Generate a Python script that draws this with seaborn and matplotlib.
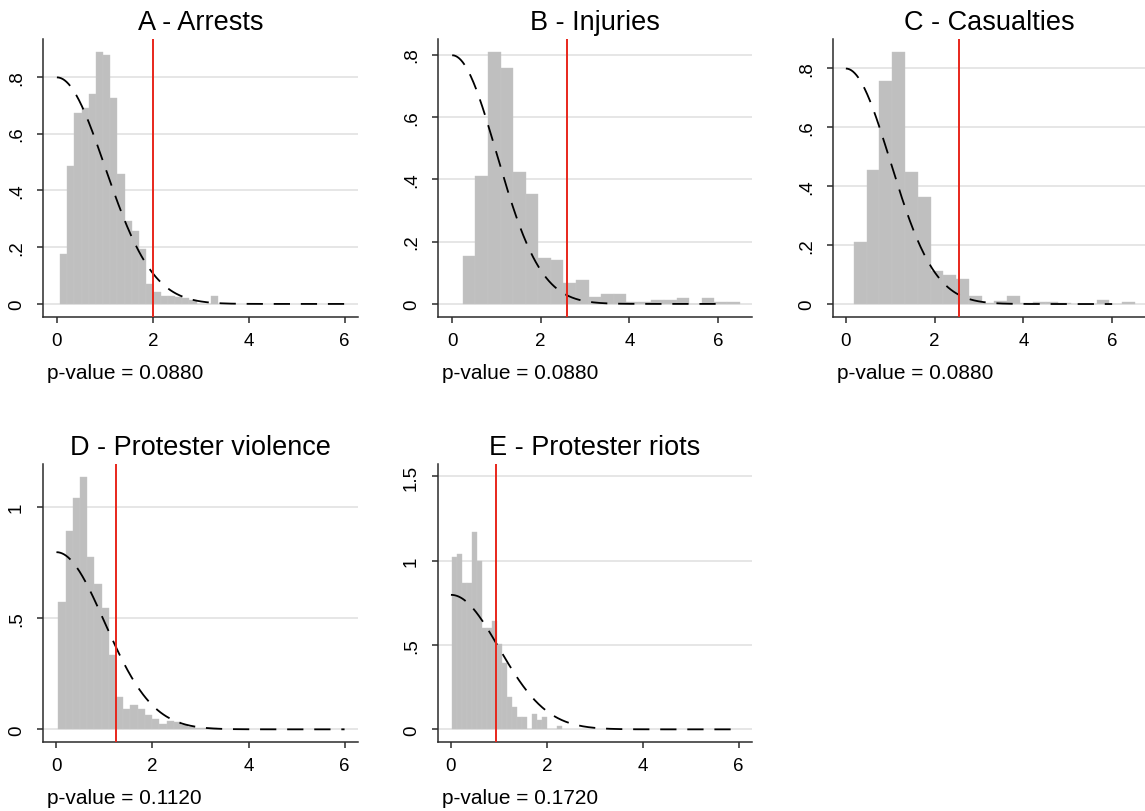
import numpy as np
import pandas as pd
import matplotlib
matplotlib.use("Agg")
import matplotlib.pyplot as plt
import seaborn as sns

# ---------------- data ----------------
titles = ["A - Arrests", "B - Injuries", "C - Casualties",
          "D - Protester violence", "E - Protester riots"]
pvalue_labels = ["p-value = 0.0880", "p-value = 0.0880", "p-value = 0.0880",
                 "p-value = 0.1120", "p-value = 0.1720"]
observed = [2.0, 2.59, 2.54, 1.23, 0.95]          # red vertical line
bin_start = [0.063, 0.24, 0.18, 0.042, 0.012]
bin_width = [0.15, 0.284, 0.288, 0.15, 0.1045]

dens_A = [0.175, 0.484, 0.673, 0.690, 0.739, 0.888, 0.876, 0.725, 0.457, 0.291,
          0.256, 0.192, 0.069, 0.041, 0.029, 0.027, 0.025, 0.020, 0.015, 0.0,
          0.0, 0.028]
dens_B = [0.155, 0.410, 0.808, 0.758, 0.424, 0.353, 0.147, 0.141, 0.068, 0.077,
          0.021, 0.033, 0.033, 0.006, 0.006, 0.011, 0.011, 0.019, 0.0, 0.019,
          0.006, 0.006]
dens_C = [0.210, 0.455, 0.757, 0.854, 0.448, 0.364, 0.112, 0.097, 0.085, 0.028,
          0.004, 0.011, 0.026, 0.004, 0.006, 0.006, 0.003, 0.0, 0.0, 0.013,
          0.0, 0.006]
dens_D = [0.573, 0.895, 1.042, 1.136, 0.775, 0.655, 0.547, 0.333, 0.147, 0.093,
          0.108, 0.090, 0.063, 0.048, 0.025, 0.037, 0.035, 0.020, 0.012, 0.007,
          0.005, 0.004]
dens_E = [1.020, 1.040, 0.867, 0.867, 1.172, 1.000, 0.604, 0.604, 0.644, 0.505,
          0.396, 0.194, 0.135, 0.073, 0.073, 0.0, 0.093, 0.055, 0.073, 0.0,
          0.0, 0.020]
densities = [dens_A, dens_B, dens_C, dens_D, dens_E]

xticks = [0, 2, 4, 6]
xtick_labels = ["0", "2", "4", "6"]
yticks_top = [0, 0.2, 0.4, 0.6, 0.8]
ytick_labels_top = ["0", ".2", ".4", ".6", ".8"]
yticks_D = [0, 0.5, 1]
ytick_labels_D = ["0", ".5", "1"]
yticks_E = [0, 0.5, 1, 1.5]
ytick_labels_E = ["0", ".5", "1", "1.5"]
yticks_list = [yticks_top, yticks_top, yticks_top, yticks_D, yticks_E]
ylabels_list = [ytick_labels_top] * 3 + [ytick_labels_D, ytick_labels_E]

# reference half-normal density (dashed)
ref_x = np.linspace(0, 6, 300)
ref_y = 2.0 / np.sqrt(2 * np.pi) * np.exp(-ref_x ** 2 / 2)

# ---------------- style ----------------
sns.set_style("ticks")
plt.rcParams["font.family"] = ["Liberation Sans", "DejaVu Sans"]
plt.rcParams["text.color"] = "black"
plt.rcParams["axes.titlecolor"] = "black"
plt.rcParams["axes.edgecolor"] = "#2b2b2b"
plt.rcParams["xtick.color"] = "#2b2b2b"
plt.rcParams["ytick.color"] = "#2b2b2b"
plt.rcParams["xtick.labelcolor"] = "black"
plt.rcParams["ytick.labelcolor"] = "black"

W, H = 1145, 812
fig = plt.figure(figsize=(W / 100, H / 100), dpi=100)

# axes boxes in pixels: left, top, right, bottom
boxes = [(43, 40, 358, 318), (438, 40, 752, 318), (833, 40, 1145, 318),
         (43, 465, 358, 743), (438, 465, 752, 743)]
xlims = [(-0.29, 6.28), (-0.32, 6.77), (-0.29, 6.74), (-0.28, 6.28), (-0.27, 6.28)]
ylims = [(-0.046, 0.933), (-0.042, 0.85), (-0.044, 0.898), (-0.057, 1.195), (-0.075, 1.574)]

for i in range(5):
    l, t, r, b = boxes[i]
    ax = fig.add_axes([l / W, 1 - b / H, (r - l) / W, (b - t) / H])
    n = len(densities[i])
    edges = [bin_start[i] + bin_width[i] * k for k in range(n + 1)]
    centers = [(edges[k] + edges[k + 1]) / 2 for k in range(n)]
    df = pd.DataFrame({"x": centers, "w": densities[i]})
    for yt in yticks_list[i]:
        ax.axhline(yt, color="#e6e6e6", lw=1.4, zorder=0)
    sns.histplot(data=df, x="x", weights="w", bins=edges, stat="count",
                 color="#bfbfbf", alpha=1.0, edgecolor="#c6c6c6", linewidth=0.3,
                 ax=ax, zorder=2)
    sns.lineplot(x=ref_x, y=ref_y, ax=ax, color="black", lw=1.3,
                 linestyle=(0, (9, 6)), zorder=3)
    ax.axvline(observed[i], color="#e8261b", lw=1.4, zorder=4)

    ax.set_xlim(*xlims[i])
    ax.set_ylim(*ylims[i])
    ax.set_xticks(xticks)
    ax.set_xticklabels(xtick_labels, fontsize=13.5)
    ax.set_yticks(yticks_list[i])
    ax.set_yticklabels(ylabels_list[i], fontsize=13.5, rotation=90, va="center")
    ax.tick_params(axis="x", length=4, width=1.1, pad=7)
    ax.tick_params(axis="y", length=4, width=1.1, pad=9)
    ax.set_xlabel("")
    ax.set_ylabel("")
    for s in ["top", "right"]:
        ax.spines[s].set_visible(False)
    for s in ["left", "bottom"]:
        ax.spines[s].set_linewidth(1.1)
    ax.set_title(titles[i], fontsize=19.5, pad=7)
    ax.text(0.013, -0.198, pvalue_labels[i], transform=ax.transAxes,
            fontsize=15, ha="left", va="center")

fig.savefig("out.png", dpi=100)
